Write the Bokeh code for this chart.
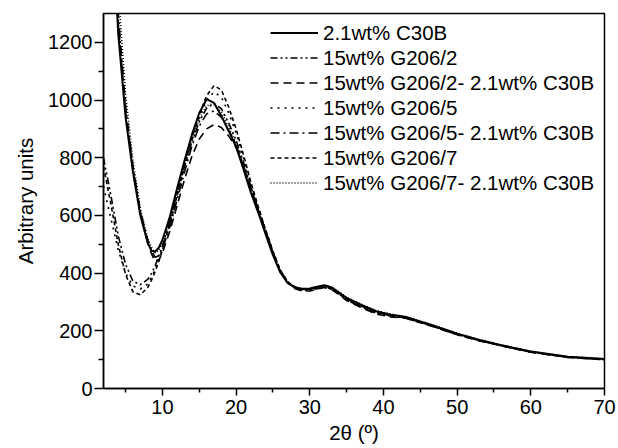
from bokeh.plotting import figure
from bokeh.models import Range1d, FixedTicker, Legend, LegendItem
from bokeh.embed import file_html
from bokeh.resources import INLINE

# 2-theta grid (degrees)
two_theta = [2, 3, 4, 5, 6, 7, 8, 8.5, 9, 9.5, 10, 11, 12, 13, 14, 15, 16, 17, 18, 19,
             20, 21, 22, 23, 24, 25, 26, 27, 28, 29, 30, 31, 32, 33, 34, 35, 37, 39, 41, 43,
             45, 47, 50, 53, 56, 60, 65, 70]

c30b = [2400, 1720, 1230, 940, 750, 600, 505, 478, 474, 488, 515, 595, 695, 790, 880, 955, 1003, 990, 945, 892,
        838, 760, 680, 610, 535, 462, 402, 366, 350, 346, 347, 353, 358, 350, 332, 314, 290, 268, 256, 248,
        232, 216, 190, 168, 150, 128, 110, 102]
g206_2 = [800, 670, 530, 430, 372, 360, 378, 398, 425, 458, 495, 580, 675, 770, 855, 925, 972, 988, 970, 920,
          860, 785, 700, 620, 545, 472, 408, 368, 348, 340, 340, 346, 351, 344, 327, 307, 283, 261, 251, 244,
          229, 213, 187, 166, 148, 126, 108, 100]
g206_2_c30b = [2450, 1780, 1270, 960, 760, 610, 505, 468, 440, 445, 470, 545, 635, 725, 805, 865, 900, 915, 905, 875,
               835, 770, 695, 620, 545, 470, 405, 365, 346, 338, 338, 344, 350, 342, 325, 305, 280, 258, 248, 244,
               228, 212, 186, 165, 148, 126, 108, 100]
g206_5 = [700, 590, 480, 400, 355, 345, 362, 385, 412, 445, 483, 572, 670, 770, 862, 940, 1000, 1028, 1010, 955,
          885, 800, 710, 628, 550, 476, 410, 370, 350, 344, 346, 352, 356, 349, 332, 312, 288, 266, 255, 247,
          231, 215, 189, 168, 150, 128, 110, 102]
g206_5_c30b = [2500, 1820, 1300, 980, 770, 615, 515, 478, 455, 460, 485, 560, 655, 750, 840, 910, 952, 962, 940, 895,
               845, 772, 695, 622, 548, 472, 408, 370, 352, 344, 344, 350, 355, 348, 330, 310, 286, 265, 254, 246,
               230, 214, 188, 167, 149, 127, 109, 101]
g206_7 = [770, 640, 500, 395, 335, 325, 350, 375, 405, 440, 480, 570, 670, 775, 870, 950, 1015, 1050, 1035, 975,
          900, 810, 715, 630, 550, 475, 410, 370, 350, 343, 343, 348, 352, 345, 328, 308, 284, 262, 252, 245,
          230, 214, 188, 167, 149, 127, 109, 101]
g206_7_c30b = [2600, 1900, 1380, 1020, 790, 625, 520, 490, 470, 478, 505, 580, 675, 770, 860, 935, 980, 988, 958, 905,
               850, 775, 695, 620, 545, 470, 405, 367, 350, 344, 345, 350, 356, 350, 335, 316, 292, 270, 258, 250,
               234, 218, 192, 170, 151, 129, 111, 103]

labels = ["2.1wt% C30B", "15wt% G206/2", "15wt% G206/2- 2.1wt% C30B", "15wt% G206/5",
          "15wt% G206/5- 2.1wt% C30B", "15wt% G206/7", "15wt% G206/7- 2.1wt% C30B"]
series = [c30b, g206_2, g206_2_c30b, g206_5, g206_5_c30b, g206_7, g206_7_c30b]
dashes = ["solid", "7 3 2 3 2 3", "8 5", "2 5", "9 4 2 4", "4 3", "1 2"]
widths = [2, 1.6, 1.6, 1.6, 1.6, 1.6, 1.6]

x_major = [10, 20, 30, 40, 50, 60, 70]
x_minor = [5, 15, 25, 35, 45, 55, 65]
y_major = [0, 200, 400, 600, 800, 1000, 1200]
y_minor = [100, 300, 500, 700, 900, 1100]

FONT = "Liberation Sans"

p = figure(width=618, height=448, output_backend="svg", toolbar_location=None,
           x_range=Range1d(2, 70), y_range=Range1d(0, 1300),
           min_border_left=103, min_border_top=13, min_border_right=14, min_border_bottom=60)
p.background_fill_color = "white"
p.border_fill_color = "white"
p.outline_line_color = "black"
p.outline_line_width = 1.5
p.xgrid.visible = False
p.ygrid.visible = False

for ax in (p.xaxis[0], p.yaxis[0]):
    ax.axis_line_color = "black"
    ax.axis_line_width = 1.5
    ax.major_tick_line_width = 1.5
    ax.minor_tick_line_width = 1.5
    ax.major_tick_in = 0
    ax.minor_tick_in = 0
    ax.major_label_text_font = FONT
    ax.major_label_text_font_size = "20px"
    ax.major_label_text_color = "black"
    ax.axis_label_text_font = FONT
    ax.axis_label_text_font_size = "20.5px"
    ax.axis_label_text_font_style = "normal"
    ax.axis_label_text_color = "black"

p.xaxis[0].ticker = FixedTicker(ticks=x_major, minor_ticks=x_minor)
p.yaxis[0].ticker = FixedTicker(ticks=y_major, minor_ticks=y_minor)
p.xaxis[0].major_tick_out = 7
p.xaxis[0].minor_tick_out = 4
p.yaxis[0].major_tick_out = 9
p.yaxis[0].minor_tick_out = 5
p.xaxis[0].major_label_standoff = 4
p.yaxis[0].major_label_standoff = 2
p.xaxis[0].axis_label = "2θ (º)"
p.yaxis[0].axis_label = "Arbitrary units"
p.xaxis[0].axis_label_standoff = 4
p.yaxis[0].axis_label_standoff = 8

items = []
for lab, ys, d, w in zip(labels, series, dashes, widths):
    r = p.line(two_theta, ys, line_color="black", line_width=w, line_dash=d)
    items.append(LegendItem(label=lab, renderers=[r]))

legend = Legend(items=items, location=(167, 193), padding=0, margin=0, spacing=0,
                glyph_width=48, glyph_height=25, label_height=25, label_standoff=5,
                label_text_font=FONT, label_text_font_size="20.5px", label_text_color="black",
                border_line_color=None, background_fill_alpha=0)
p.add_layout(legend, "center")

open("out.html", "w").write(file_html(p, INLINE))
